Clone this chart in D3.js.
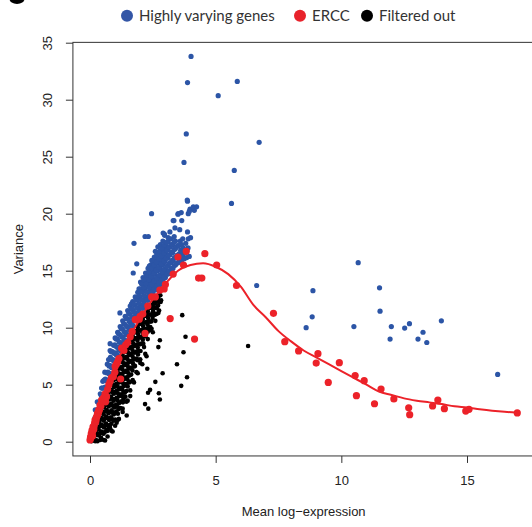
<!DOCTYPE html>
<html>
<head>
<meta charset="utf-8">
<title>Mean-variance trend</title>
<script src="https://cdn.jsdelivr.net/npm/d3@7"></script>
<style>
  body { margin: 0; background: #fff; }
  text { font-family: "Liberation Sans", Arial, sans-serif; fill: #222; }
  .legend text { font-family: Lato, "Open Sans", sans-serif; fill: #333; }
</style>
</head>
<body>
<script>
// axis ticks
var xTicks = [0, 5, 10, 15];
var yTicks = [0, 5, 10, 15, 20, 25, 30, 35];

var legendLabels = ["Highly varying genes", "ERCC", "Filtered out"];
var legendColors = ["#3356a6", "#e8222b", "#000000"];

// fitted trend through the ERCC spike-ins (mean, variance)
var trendMean = [0, 0.2, 0.4, 0.7, 1.0, 1.5, 2.0, 2.4, 2.8, 3.1, 3.5, 4.0, 4.5, 5.0, 5.5, 6.0, 6.5, 7.0, 7.5, 8.0, 8.5, 9.0, 9.5, 10.0, 10.5, 11.0, 11.5, 12.0, 12.5, 13.0, 13.5, 14.0, 14.5, 15.0, 15.5, 16.0, 16.5, 17.0];
var trendVar  = [0.2, 1.6, 3.0, 4.9, 6.6, 8.9, 10.8, 12.2, 13.3, 14.1, 15.0, 15.5, 15.65, 15.35, 14.7, 13.6, 12.0, 10.9, 9.7, 8.8, 8.0, 7.4, 6.8, 6.2, 5.6, 5.0, 4.4, 4.1, 3.8, 3.6, 3.45, 3.3, 3.1, 3.0, 2.85, 2.72, 2.62, 2.55];

// ERCC spike-ins [mean, variance]
var ercc = [
  [0.0,0.15],[0.02,0.4],[0.03,0.3],[0.05,0.7],[0.06,0.55],[0.08,1.0],[0.09,0.8],[0.1,0.5],[0.11,0.95],
  [0.12,1.3],[0.14,1.15],[0.15,1.1],[0.16,1.35],[0.18,1.6],[0.2,1.9],[0.22,1.7],[0.24,1.85],
  [0.25,2.1],[0.27,2.2],[0.29,2.3],[0.3,2.5],[0.33,2.5],[0.35,2.8],[0.37,2.75],[0.4,3.2],[0.43,3.1],
  [0.46,3.66],[0.5,3.5],[0.53,3.8],[0.56,3.9],[0.6,4.2],[0.62,3.5],[0.66,3.95],[0.7,4.6],[0.75,5.0],
  [0.8,5.3],[0.85,5.6],[0.93,5.7],[0.99,6.1],[1.0,6.6],[1.05,6.8],[1.1,7.0],[1.15,7.3],[1.22,5.5],
  [1.26,8.2],[1.35,8.0],[1.42,8.5],[1.5,8.7],[1.6,9.2],[1.68,9.65],[1.8,10.7],[1.96,10.75],[1.99,11.0],
  [2.19,9.5],[2.1,11.2],[2.3,11.9],[2.45,12.7],[2.6,12.7],[2.78,13.3],[2.95,13.4],[3.0,13.8],
  [3.19,10.8],[3.31,14.7],[3.5,16.2],[3.72,15.5],[3.83,16.7],
  [4.16,9.0],[4.32,14.35],[4.45,14.35],[4.57,16.5],[5.04,15.5],[5.83,13.7],[7.30,11.26],[7.75,8.77],
  [8.30,7.96],[9.07,7.72],[9.00,6.9],[9.92,6.93],[9.48,5.2],[10.55,5.8],[10.91,5.35],[10.60,4.04],
  [11.58,4.62],[11.32,3.33],[12.09,3.75],[12.68,2.98],[12.72,2.37],[13.63,3.13],[13.84,3.66],
  [14.10,2.9],[14.95,2.69],[15.08,2.84],[17.0,2.52]
];

// highly varying genes [mean, variance]
var highlyVarying = [
  [0.2,2.1],[0.21,2.8],[0.3,2.8],[0.29,3.5],[0.4,3.5],[0.41,4.2],
  [0.5,4.0],[0.49,4.7],[0.51,5.3],[0.6,4.8],[0.61,5.5],[0.59,6.1],
  [0.7,5.4],[0.71,6.1],[0.69,6.8],[0.8,6.0],[0.79,6.7],[0.81,7.4],[0.8,8.0],
  [0.9,6.5],[0.91,7.2],[0.89,7.9],[1.0,7.1],[1.01,7.8],[0.99,8.5],[1.0,9.1],
  [1.1,7.6],[1.11,8.3],[1.09,9.0],[1.1,9.6],[1.2,8.0],[1.21,8.7],[1.19,9.4],[1.2,10.1],
  [1.3,8.5],[1.31,9.2],[1.29,9.9],[1.3,10.6],[1.4,8.9],[1.41,9.6],[1.39,10.3],[1.4,11.0],
  [1.5,9.4],[1.51,10.1],[1.49,10.8],[1.5,11.5],[1.6,9.8],[1.61,10.5],[1.59,11.2],[1.6,11.9],
  [1.7,10.2],[1.71,10.9],[1.69,11.6],[1.7,12.3],[1.8,10.6],[1.81,11.3],[1.79,12.0],[1.8,12.7],
  [1.9,11.0],[1.91,11.7],[1.89,12.4],[1.9,13.1],[2.0,11.3],[2.01,12.0],[1.99,12.7],[2.0,13.4],[2.01,14.0],
  [2.1,11.7],[2.11,12.4],[2.09,13.1],[2.1,13.8],[2.11,14.4],[2.2,12.0],[2.21,12.7],[2.19,13.4],[2.2,14.1],[2.21,14.8],
  [2.3,12.4],[2.31,13.1],[2.29,13.8],[2.3,14.5],[2.31,15.2],[2.4,12.7],[2.41,13.4],[2.39,14.1],[2.4,14.8],[2.41,15.5],
  [2.5,13.0],[2.51,13.7],[2.49,14.4],[2.5,15.1],[2.51,15.8],
  [2.6,13.3],[2.61,14.0],[2.59,14.7],[2.6,15.4],[2.61,16.1],[2.6,16.7],
  [2.7,13.6],[2.71,14.3],[2.69,15.0],[2.7,15.7],[2.71,16.4],[2.7,17.1],
  [2.8,13.8],[2.81,14.5],[2.79,15.2],[2.8,15.9],[2.81,16.6],[2.8,17.3],
  [2.9,14.1],[2.91,14.8],[2.89,15.5],[2.9,16.2],[2.91,16.9],[2.9,17.6],
  [3.0,14.4],[3.01,15.1],[2.99,15.8],[3.0,16.5],[3.01,17.2],
  [3.1,14.7],[3.11,15.4],[3.09,16.1],[3.1,16.8],[3.11,17.5],
  [3.2,15.0],[3.21,15.7],[3.19,16.4],[3.2,17.1],[3.21,17.8],
  [3.3,15.2],[3.31,15.9],[3.29,16.6],[3.3,17.3],[3.4,15.5],[3.41,16.2],[3.39,16.9],[3.4,17.6],
  [3.5,15.7],[3.51,16.4],[3.49,17.2],[3.6,16.0],[3.61,16.8],[3.59,17.6],
  [3.7,16.3],[3.71,17.0],[3.69,17.8],[3.8,16.6],[3.81,17.4],[3.9,17.0],[3.91,17.8],[4.0,17.9],
  // in-between rows of the dense band
  [0.25,2.7],[0.35,3.4],[0.45,4.05],[0.46,4.7],[0.55,4.7],[0.56,5.4],[0.65,5.35],[0.66,6.05],
  [0.75,5.95],[0.76,6.65],[0.74,7.2],[0.85,6.5],[0.86,7.2],[0.84,7.9],[0.95,7.05],[0.96,7.75],[0.94,8.45],
  [1.05,7.6],[1.06,8.3],[1.04,9.0],[1.15,8.05],[1.16,8.75],[1.14,9.45],[1.25,8.5],[1.26,9.2],[1.24,9.9],
  [1.35,8.95],[1.36,9.65],[1.34,10.35],[1.45,9.4],[1.46,10.1],[1.44,10.8],[1.55,9.85],[1.56,10.55],[1.54,11.25],
  [1.65,10.25],[1.66,10.95],[1.64,11.65],[1.65,12.1],[1.75,10.65],[1.76,11.35],[1.74,12.05],
  [1.85,11.05],[1.86,11.75],[1.84,12.45],[1.95,11.4],[1.96,12.1],[1.94,12.8],[1.95,13.4],
  [2.05,11.75],[2.06,12.45],[2.04,13.15],[2.05,13.85],[2.15,12.1],[2.16,12.8],[2.14,13.5],[2.15,14.2],
  [2.25,12.45],[2.26,13.15],[2.24,13.85],[2.25,14.55],[2.35,12.8],[2.36,13.5],[2.34,14.2],[2.35,14.9],[2.36,15.4],
  [2.45,13.1],[2.46,13.8],[2.44,14.5],[2.45,15.2],[2.46,15.9],[2.55,13.4],[2.56,14.1],[2.54,14.8],[2.55,15.5],[2.56,16.2],
  [2.65,13.65],[2.66,14.35],[2.64,15.05],[2.65,15.75],[2.66,16.45],[2.75,13.9],[2.76,14.6],[2.74,15.3],[2.75,16.0],[2.76,16.7],
  [2.85,14.2],[2.86,14.9],[2.84,15.6],[2.85,16.3],[2.86,17.0],[2.95,14.45],[2.96,15.15],[2.94,15.85],[2.95,16.55],[2.96,17.25],
  [3.05,14.7],[3.06,15.4],[3.04,16.1],[3.05,16.8],[3.06,17.5],[3.15,14.95],[3.16,15.65],[3.14,16.35],[3.15,17.05],
  [3.25,15.2],[3.26,15.9],[3.24,16.6],[3.25,17.3],[3.35,15.45],[3.36,16.15],[3.34,16.85],[3.35,17.55],
  [3.45,15.65],[3.46,16.35],[3.44,17.05],[3.55,15.8],[3.56,16.5],[3.54,17.2],[3.65,15.9],[3.66,16.6],[3.64,17.3],
  [3.75,16.05],[3.76,16.75],[3.85,16.15],[3.86,16.85],[3.95,16.25],
  // upper edge and outliers
  [2.91,18.3],[2.97,18.1],[3.18,18.4],[3.31,19.4],[3.38,18.75],[3.51,20.0],[3.57,18.6],[3.63,20.1],
  [3.65,19.4],[3.5,19.95],[3.34,19.4],[3.88,18.4],[3.91,20.0],[3.98,20.4],[3.95,20.2],[4.15,20.3],
  [4.11,20.6],[4.24,20.6],[3.88,21.1],[2.96,18.2],[3.11,17.9],[3.35,18.0],[2.45,20.0],[2.19,18.0],
  [2.32,18.0],[1.75,17.4],[1.86,15.6],[1.72,14.8],[1.19,11.3],[0.8,8.6],
  [4.02,33.8],[3.88,31.5],[5.86,31.6],[5.10,30.35],[3.83,27.0],[6.73,26.26],[3.74,24.5],[5.74,23.8],
  [3.87,21.2],[5.63,20.9],[6.63,13.7],[10.67,15.7],[8.87,13.25],[11.52,13.5],[8.84,10.95],[8.60,10.0],
  [10.50,10.1],[11.54,11.45],[11.99,10.1],[11.94,9.0],[12.52,9.97],[12.71,10.35],[13.25,9.6],
  [13.05,9.0],[13.40,8.7],[13.98,10.6],[16.22,5.9]
];

// genes filtered out [mean, variance]
var filteredOut = [
  [0.05,0.3],[0.06,0.05],[0.15,0.95],[0.14,0.35],[0.25,1.4],[0.26,0.75],[0.24,0.15],
  [0.35,2.3],[0.36,1.75],[0.34,1.1],[0.35,0.55],[0.45,2.75],[0.44,2.1],[0.46,1.5],[0.45,0.9],[0.44,0.35],
  [0.55,3.6],[0.56,3.05],[0.54,2.4],[0.55,1.85],[0.56,1.25],[0.54,0.7],
  [0.65,4.05],[0.64,3.4],[0.66,2.8],[0.65,2.2],[0.64,1.6],[0.66,1.05],
  [0.75,4.85],[0.74,4.3],[0.76,3.7],[0.75,3.1],[0.74,2.5],[0.76,1.9],[0.75,1.35],
  [0.85,5.15],[0.86,4.55],[0.84,3.95],[0.85,3.35],[0.86,2.75],[0.84,2.15],[0.85,1.6],
  [0.95,5.95],[0.94,5.4],[0.96,4.8],[0.95,4.2],[0.94,3.6],[0.96,3.0],[0.95,2.4],[0.94,1.85],
  [1.05,6.25],[1.06,5.65],[1.04,5.05],[1.05,4.45],[1.06,3.85],[1.04,3.25],[1.05,2.65],
  [1.15,6.95],[1.14,6.4],[1.16,5.8],[1.15,5.2],[1.14,4.6],[1.16,4.0],[1.15,3.4],[1.14,2.85],
  [1.25,7.15],[1.26,6.55],[1.24,5.95],[1.25,5.35],[1.26,4.75],[1.24,4.15],[1.25,3.55],
  [1.35,7.85],[1.34,7.3],[1.36,6.7],[1.35,6.1],[1.34,5.5],[1.36,4.9],[1.35,4.3],[1.34,3.75],
  [1.45,8.05],[1.46,7.45],[1.44,6.85],[1.45,6.25],[1.46,5.65],[1.44,5.05],[1.45,4.45],
  [1.55,8.75],[1.54,8.2],[1.56,7.6],[1.55,7.0],[1.54,6.4],[1.56,5.8],[1.55,5.2],
  [1.65,8.9],[1.66,8.3],[1.64,7.7],[1.65,7.1],[1.66,6.5],[1.64,5.9],
  [1.75,9.55],[1.74,9.0],[1.76,8.4],[1.75,7.8],[1.74,7.2],[1.76,6.6],
  [1.85,9.7],[1.86,9.1],[1.84,8.5],[1.85,7.9],[1.86,7.3],
  [1.95,10.3],[1.94,9.75],[1.96,9.15],[1.95,8.55],[1.94,7.95],
  [2.05,10.4],[2.06,9.8],[2.04,9.2],[2.05,8.6],[2.15,11.0],[2.14,10.45],[2.16,9.85],[2.15,9.25],
  [2.25,11.1],[2.26,10.5],[2.24,9.9],[2.35,11.7],[2.34,11.15],[2.36,10.55],[2.35,9.95],
  [2.45,11.75],[2.46,11.15],[2.44,10.55],[2.55,12.3],[2.54,11.75],[2.56,11.15],
  [2.65,12.3],[2.66,11.7],[2.75,12.8],[2.74,12.25],
  // in-between rows of the dense mass
  [0.1,0.5],[0.11,0.1],[0.2,1.15],[0.2,0.55],[0.21,0.05],[0.3,1.85],[0.31,1.25],[0.29,0.65],[0.3,0.05],
  [0.4,2.55],[0.41,1.95],[0.39,1.35],[0.4,0.75],[0.41,0.15],[0.5,3.15],[0.51,2.55],[0.49,1.95],[0.5,1.35],[0.51,0.75],
  [0.6,3.85],[0.61,3.25],[0.59,2.65],[0.6,2.05],[0.61,1.45],[0.59,0.85],
  [0.7,4.45],[0.71,3.85],[0.69,3.25],[0.7,2.65],[0.71,2.05],[0.69,1.45],[0.7,0.95],
  [0.8,5.05],[0.81,4.45],[0.79,3.85],[0.8,3.25],[0.81,2.65],[0.79,2.05],[0.8,1.45],
  [0.9,5.55],[0.91,4.95],[0.89,4.35],[0.9,3.75],[0.91,3.15],[0.89,2.55],[0.9,1.95],
  [1.0,6.15],[1.01,5.55],[0.99,4.95],[1.0,4.35],[1.01,3.75],[0.99,3.15],[1.0,2.55],[1.01,1.95],
  [1.1,6.65],[1.11,6.05],[1.09,5.45],[1.1,4.85],[1.11,4.25],[1.09,3.65],[1.1,3.05],[1.11,2.45],
  [1.2,7.05],[1.21,6.45],[1.19,5.85],[1.2,5.25],[1.21,4.65],[1.19,4.05],[1.2,3.45],[1.21,2.95],
  [1.3,7.55],[1.31,6.95],[1.29,6.35],[1.3,5.75],[1.31,5.15],[1.29,4.55],[1.3,3.95],[1.31,3.45],
  [1.4,7.95],[1.41,7.35],[1.39,6.75],[1.4,6.15],[1.41,5.55],[1.39,4.95],[1.4,4.35],[1.41,3.95],
  [1.5,8.45],[1.51,7.85],[1.49,7.25],[1.5,6.65],[1.51,6.05],[1.49,5.45],[1.5,4.85],
  [1.6,8.85],[1.61,8.25],[1.59,7.65],[1.6,7.05],[1.61,6.45],[1.59,5.85],[1.6,5.25],
  [1.7,9.25],[1.71,8.65],[1.69,8.05],[1.7,7.45],[1.71,6.85],[1.69,6.25],
  [1.8,9.65],[1.81,9.05],[1.79,8.45],[1.8,7.85],[1.81,7.25],[1.79,6.65],
  [1.9,10.05],[1.91,9.45],[1.89,8.85],[1.9,8.25],[1.91,7.65],[1.89,7.15],
  [2.0,10.35],[2.01,9.75],[1.99,9.15],[2.0,8.55],[2.01,7.95],
  [2.1,10.75],[2.11,10.15],[2.09,9.55],[2.1,8.95],[2.2,11.05],[2.21,10.45],[2.19,9.85],[2.2,9.25],
  [2.3,11.45],[2.31,10.85],[2.29,10.25],[2.3,9.65],[2.4,11.75],[2.41,11.15],[2.39,10.55],[2.4,10.05],
  [2.5,12.05],[2.51,11.45],[2.49,10.85],[2.6,12.35],[2.61,11.75],[2.59,11.15],
  [2.7,12.55],[2.71,11.95],[2.8,12.85],[2.81,12.25],
  // lower-right fringe of the mass
  [0.55,0.15],[0.7,0.45],[0.85,0.95],[1.0,1.4],[1.15,2.0],[1.3,2.9],[1.45,3.5],[1.6,4.5],[1.7,5.4],
  [1.85,6.1],[2.0,7.2],[2.15,8.3],[2.3,9.0],[2.45,9.9],[2.6,10.6],[2.75,11.5],
  // scattered genes off the main mass
  [0.8,1.18],[1.06,1.67],[1.46,2.3],[2.19,3.3],[2.32,2.9],[2.31,4.3],[2.39,4.55],[2.6,5.25],
  [2.74,4.25],[2.78,3.7],[2.89,6.0],[2.08,6.8],[2.28,6.4],[1.99,7.2],[2.25,7.5],[2.12,8.6],
  [2.39,9.8],[2.65,11.2],[2.58,12.1],[2.83,12.4],[2.72,11.3],[2.52,11.3],[2.72,8.3],[2.78,8.9],
  [3.46,6.8],[3.63,4.9],[3.67,11.1],[3.72,7.85],[3.8,9.2],[3.86,5.65],[6.29,8.4],
  [1.3,2.6],[1.6,4.0],[1.9,6.0],[2.2,7.7],[0.6,0.1],[0.9,0.9],[1.1,1.9],[1.5,3.6],[1.75,5.2],[2.5,9.6],[2.0,6.9]
];

var width = 532, height = 527;

var x = d3.scaleLinear().domain([0, 15]).range([90, 467]);
var y = d3.scaleLinear().domain([0, 35]).range([441.7, 42.7]);

var svg = d3.select("body").append("svg")
  .attr("width", width)
  .attr("height", height);

// bottom of a panel letter cropped off at the top-left corner
svg.append("ellipse")
  .attr("cx", 17).attr("cy", -1).attr("rx", 7.5).attr("ry", 5)
  .attr("fill", "#000");

// frame of the plot (right edge falls just outside the picture)
svg.append("rect")
  .attr("x", x(-0.68)).attr("y", y(35.03))
  .attr("width", x(17.68) - x(-0.68))
  .attr("height", y(-1.25) - y(35.03))
  .attr("fill", "none").attr("stroke", "#333").attr("stroke-width", 1);

// axes
var xAxis = svg.append("g")
  .attr("transform", "translate(0," + y(-1.25) + ")")
  .call(d3.axisBottom(x).tickValues(xTicks).tickSize(7).tickFormat(d3.format("d")));
xAxis.select(".domain").remove();
xAxis.selectAll("line").attr("stroke", "#333");
xAxis.selectAll("text").attr("y", 19.5).style("font-size", "13px")
  .style("font-family", "'Liberation Sans', Arial, sans-serif").attr("fill", "#222");

var yAxis = svg.append("g")
  .attr("transform", "translate(" + x(-0.68) + ",0)")
  .call(d3.axisLeft(y).tickValues(yTicks).tickSize(7).tickFormat(d3.format("d")));
yAxis.select(".domain").remove();
yAxis.selectAll("line").attr("stroke", "#333");
yAxis.selectAll("text")
  .attr("x", 0).attr("dy", 0).attr("y", 0)
  .attr("text-anchor", "middle")
  .attr("transform", "translate(-20.5,0) rotate(-90)")
  .style("font-size", "13px")
  .style("font-family", "'Liberation Sans', Arial, sans-serif").attr("fill", "#222");

svg.append("text")
  .attr("x", (x(-0.68) + x(17.68)) / 2).attr("y", 516)
  .attr("text-anchor", "middle").style("font-size", "13px")
  .text("Mean log\u2212expression");

svg.append("text")
  .attr("transform", "translate(23," + (y(35.03) + y(-1.25)) / 2 + ") rotate(-90)")
  .attr("text-anchor", "middle").style("font-size", "13px")
  .text("Variance");

// points: filtered first, then highly varying, then spike-ins on top
svg.append("g").selectAll("circle")
  .data(filteredOut).enter().append("circle")
  .attr("cx", function(d) { return x(d[0]); })
  .attr("cy", function(d) { return y(d[1]); })
  .attr("r", 2.3)
  .attr("fill", "#000");

svg.append("g").selectAll("circle")
  .data(highlyVarying).enter().append("circle")
  .attr("cx", function(d) { return x(d[0]); })
  .attr("cy", function(d) { return y(d[1]); })
  .attr("r", 2.6)
  .attr("fill", "#2c55a6");

svg.append("g").selectAll("circle")
  .data(ercc).enter().append("circle")
  .attr("cx", function(d) { return x(d[0]); })
  .attr("cy", function(d) { return y(d[1]); })
  .attr("r", 3.6)
  .attr("fill", "#ec2229");

var trend = d3.line()
  .x(function(d, i) { return x(trendMean[i]); })
  .y(function(d) { return y(d); })
  .curve(d3.curveMonotoneX);

svg.append("path")
  .attr("d", trend(trendVar))
  .attr("fill", "none")
  .attr("stroke", "#ec2229")
  .attr("stroke-width", 2);

// legend across the top
var legendX = [127, 300, 367];
var legend = svg.append("g").attr("class", "legend");
legendLabels.forEach(function(label, i) {
  legend.append("circle")
    .attr("cx", legendX[i]).attr("cy", 15.7).attr("r", 6)
    .attr("fill", legendColors[i]);
  legend.append("text")
    .attr("x", legendX[i] + 12).attr("y", 21)
    .style("font-size", "15px")
    .text(label);
});
</script>
</body>
</html>
